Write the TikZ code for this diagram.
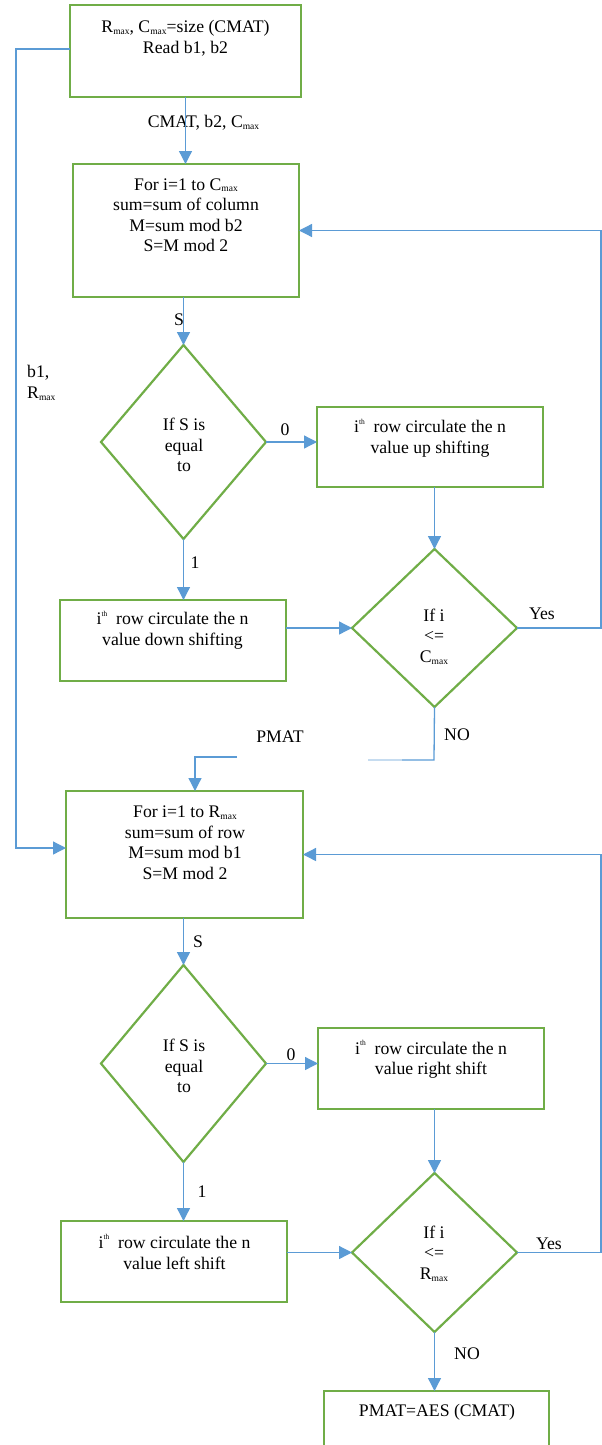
\documentclass[tikz,border=0pt]{standalone}
\usepackage{fontspec}
\setmainfont{Liberation Serif}
\usetikzlibrary{arrows.meta,shapes.geometric,calc}
\definecolor{boxgreen}{HTML}{70AD47}
\definecolor{linkblue}{HTML}{5B9BD5}
% small "max" subscript and "th" superscript
\newcommand\subm{\raisebox{-0.1em}{\fontsize{9.5}{9.5}\selectfont max}}
\newcommand\supth{\raisebox{0.5em}{\fontsize{7.5}{7.5}\selectfont th}}

\begin{document}
\begin{tikzpicture}[x=1pt,y=-1pt,
  proc/.style={rectangle,draw=boxgreen,line width=2.2pt,inner sep=0pt,outer sep=0pt},
  cond/.style={diamond,draw=boxgreen,line width=2.2pt,inner sep=0pt,outer sep=0pt,minimum width=165pt},
  txt/.style={align=center,inner sep=0pt,font=\fontsize{17.7}{20.5}\selectfont},
  lbl/.style={inner sep=0pt,font=\fontsize{17.7}{20.5}\selectfont},
  link/.style={draw=linkblue,line width=1.3pt},
  arr/.style={link,-{Triangle[length=13pt,width=13pt]}}]
\useasboundingbox (0,0) rectangle (602,1445);

% ---------- column pass ----------
\node[proc,minimum width=231pt,minimum height=92pt] (b1) at (185.5,51) {};
\node[txt] (t1) at (185.5,38) {R\subm, C\subm=size (CMAT)\\Read b1, b2};

\node[proc,minimum width=226pt,minimum height=133pt] (b2) at (186,230.5) {};
\node[txt] (t2) at (186,215) {For i=1 to C\subm\\sum=sum of column\\M=sum mod b2\\S=M mod 2};

\node[cond,minimum height=194pt] (d1) at (183.5,442) {};
\node[txt] (td1) at (184,445) {If S is\\equal\\to};

\node[proc,minimum width=226pt,minimum height=80pt] (b3) at (430,447) {};
\node[txt] (t3) at (430,438) {i\supth~ row circulate the n\\value up shifting};

\node[proc,minimum width=226pt,minimum height=81pt] (b4) at (173,640.5) {};
\node[txt] (t4) at (172.5,630) {i\supth~ row circulate the n\\value down shifting};

\node[cond,minimum height=158pt] (d2) at (434.5,628) {};
\node[txt] (td2) at (434,636.5) {If i\\<=\\C\subm};

% ---------- row pass ----------
\node[proc,minimum width=237pt,minimum height=127pt] (b5) at (184.5,854.5) {};
\node[txt] (t5) at (185,842.5) {For i=1 to R\subm\\sum=sum of row\\M=sum mod b1\\S=M mod 2};

\node[cond,minimum height=197pt] (d3) at (183.5,1063.5) {};
\node[txt] (td3) at (184,1066) {If S is\\equal\\to};

\node[proc,minimum width=226pt,minimum height=81pt] (b6) at (431,1068.5) {};
\node[txt] (t6) at (431,1059.5) {i\supth~ row circulate the n\\value right shift};

\node[proc,minimum width=226pt,minimum height=81pt] (b7) at (174,1261.5) {};
\node[txt] (t7) at (174.5,1252) {i\supth~ row circulate the n\\value left shift};

\node[cond,minimum height=159pt] (d4) at (434.5,1252.5) {};
\node[txt] (td4) at (434,1253.5) {If i\\<=\\R\subm};

\node[proc,minimum width=225pt,minimum height=84pt] (b8) at (436.5,1433) {};
\node[txt] (t8) at (437,1412) {PMAT=AES (CMAT)};

% ---------- edge labels ----------
\node[lbl] (lcm) at (203.5,123) {CMAT, b2, C\subm};
\node[lbl] (ls1) at (179,320) {S};
\node[lbl] (lz1) at (285,430) {0};
\node[lbl] (lo1) at (195,563) {1};
\node[lbl] (ly1) at (542,614) {Yes};
\node[lbl] (ln1) at (457,735) {NO};
\node[lbl] (lpm) at (280,737) {PMAT};
\node[txt,align=left,anchor=west] (lb1) at (27,383) {b1,\\R\subm};
\node[lbl] (ls2) at (198,942) {S};
\node[lbl] (lz2) at (291,1055) {0};
\node[lbl] (lo2) at (202,1192) {1};
\node[lbl] (ly2) at (549,1244) {Yes};
\node[lbl] (ln2) at (467,1354) {NO};

% ---------- connectors ----------
\coordinate (lftTop) at (16,49);
\coordinate (lftBot) at (16,848);
\coordinate (rt) at (601,0);
\coordinate (nob) at (434,760);
\coordinate (noe) at (402,760);
\coordinate (nof) at (368,760);
\coordinate (pa) at (237,757);
\coordinate (pb) at (195,757);

\draw[arr] (b1.west |- lftTop) -- (lftTop) -- (lftBot) -- (lftBot -| b5.west);
\draw[arr] (b1.south) -- (b1.south |- b2.north);
\draw[arr] (b2.south -| d1.north) -- (d1.north);
\draw[arr] (d1.east) -- (d1.east -| b3.west);
\draw[arr] (b3.south -| d2.north) -- (d2.north);
\draw[arr] (d1.south) -- (d1.south |- b4.north);
\draw[arr] (b4.east |- d2.west) -- (d2.west);
\draw[arr] (d2.east) -- (d2.east -| rt) -- (rt |- b2.east) -- (b2.east);
\draw[link] (d2.south) -- (nob) -- (noe);
\draw[link,draw=linkblue!35] (noe) -- (nof);
\draw[arr] (pa) -- (pb) -- (pb |- b5.north);

\draw[arr] (b5.south -| d3.north) -- (d3.north);
\draw[arr] (d3.east) -- (d3.east -| b6.west);
\draw[arr] (b6.south -| d4.north) -- (d4.north);
\draw[arr] (d3.south) -- (d3.south |- b7.north);
\draw[arr] (b7.east |- d4.west) -- (d4.west);
\draw[arr] (d4.east) -- (d4.east -| rt) -- (rt |- b5.east) -- (b5.east);
\draw[arr] (d4.south) -- (d4.south |- b8.north);
\end{tikzpicture}
\end{document}
